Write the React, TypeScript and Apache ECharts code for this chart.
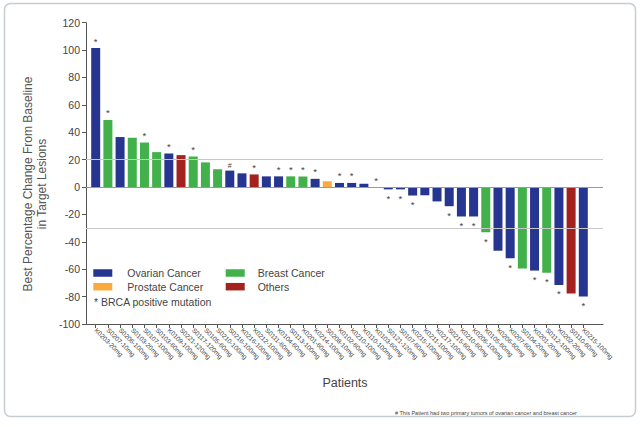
import React, { useEffect, useRef } from "react";
import * as echarts from "echarts";

const patients = [
  "K0203-20mg", "S0207-10mg", "S0206-100mg", "S0103-20mg", "S0107-100mg",
  "S0103-60mg", "K0109-100mg", "S0221-120mg", "S0117-120mg", "S0105-60mg",
  "S0210-100mg", "S0216-100mg", "K0216-100mg", "K0212-100mg", "S0111-60mg",
  "K0104-60mg", "S0113-100mg", "K0201-60mg", "K0214-100mg", "S0208-10mg",
  "K0102-60mg", "K0210-100mg", "K0110-100mg", "K0103-60mg", "S0121-120mg",
  "S0107-60mg", "K0215-100mg", "K0211-100mg", "K0217-100mg", "S0215-60mg",
  "K0210-60mg", "K0206-100mg", "K0105-60mg", "K0206-60mg", "K0207-60mg",
  "S0104-20mg", "K0201-20mg", "S0112-100mg", "K0202-20mg", "S0110-60mg",
  "K0215-100mg ",
];

const changes = [
  101.5, 49, 36.5, 36, 32.5, 25.5, 24.5, 23.3, 22.3, 18,
  13, 12, 10, 9.2, 7.8, 7.8, 7.8, 7.7, 6, 4.2,
  3, 3, 2.4, 0, -1.7, -1.7, -6.2, -6, -10.5, -14,
  -21.5, -21.5, -33, -46.5, -52, -59.5, -61, -62.5, -71.5, -77.8,
  -80,
];

const types = [
  "O", "B", "O", "B", "B", "B", "O", "R", "B", "B",
  "B", "O", "O", "R", "O", "O", "B", "B", "O", "P",
  "O", "O", "O", "O", "O", "O", "O", "O", "O", "O",
  "O", "O", "B", "O", "O", "B", "O", "B", "O", "R",
  "O",
];

const marks = [
  "*", "*", "", "", "*", "", "*", "", "*", "",
  "", "#", "", "*", "", "*", "*", "*", "*", "",
  "*", "*", "", "*", "*", "*", "*", "", "", "*",
  "*", "*", "*", "", "*", "", "*", "*", "*", "",
  "*",
];

const groups = [
  { code: "O", name: "Ovarian Cancer", color: "#26358f" },
  { code: "B", name: "Breast Cancer", color: "#42b04b" },
  { code: "P", name: "Prostate Cancer", color: "#f8ab3c" },
  { code: "R", name: "Others", color: "#a3221f" },
];

const yTicks = { min: -100, max: 120, interval: 20 };
const refLines = [20, -30];

const FONT = "Liberation Sans, Arial, sans-serif";

export default function App() {
  const ref = useRef<HTMLDivElement>(null);

  useEffect(() => {
    if (!ref.current) return;
    const chart = echarts.init(ref.current, null, { renderer: "svg" });

    const top = 22.7;
    const bottom = 427 - 324;

    const barSeries = groups.map((g) => ({
      name: g.name,
      type: "bar",
      stack: "all",
      xAxisIndex: 1,
      yAxisIndex: 1,
      barWidth: 9,
      itemStyle: { color: g.color },
      data: changes.map((v, i) =>
        types[i] === g.code
          ? {
              value: v,
              label: {
                show: marks[i] !== "",
                formatter: marks[i],
                position: v >= 0 ? "top" : "bottom",
                distance: v >= 0 ? 2 : 4,
                fontSize: marks[i] === "#" ? 7 : 9.5,
                color: "#444",
                fontFamily: FONT,
              },
            }
          : "-"
      ),
    }));

    const legendBase = {
      orient: "vertical",
      top: 267.5,
      padding: 0,
      itemWidth: 19,
      itemHeight: 7.5,
      itemGap: 2.7,
      icon: "rect",
      selectedMode: false,
    };

    const option: any = {
      animation: false,
      backgroundColor: "#ffffff",
      textStyle: { fontFamily: FONT },
      grid: [
        { left: 86, right: 37, top, bottom },
        { left: 89.6, right: 50.6, top, bottom },
      ],
      xAxis: [
        {
          type: "value",
          gridIndex: 0,
          min: 0,
          max: 1,
          axisLine: { show: true, onZero: false, lineStyle: { color: "#555", width: 1 } },
          axisTick: { show: false },
          axisLabel: { show: false },
          splitLine: { show: false },
        },
        {
          type: "category",
          gridIndex: 1,
          data: patients,
          axisLine: { show: false, onZero: false },
          axisTick: { show: true, alignWithLabel: true, length: 4, lineStyle: { color: "#555" } },
          axisLabel: {
            rotate: -45,
            interval: 0,
            fontSize: 6.5,
            color: "#444",
            margin: 5,
            fontFamily: FONT,
          },
          splitLine: { show: false },
        },
      ],
      yAxis: [
        {
          type: "value",
          gridIndex: 0,
          min: yTicks.min,
          max: yTicks.max,
          interval: yTicks.interval,
          axisLine: { show: true, lineStyle: { color: "#555", width: 1 } },
          axisTick: { show: true, length: 4, lineStyle: { color: "#555" } },
          axisLabel: { fontSize: 10.5, color: "#444", margin: 6, fontFamily: FONT },
          splitLine: { show: false },
        },
        {
          type: "value",
          gridIndex: 1,
          min: yTicks.min,
          max: yTicks.max,
          interval: yTicks.interval,
          show: false,
          splitLine: { show: false },
        },
      ],
      legend: [
        {
          ...legendBase,
          data: ["Ovarian Cancer", "Prostate Cancer"],
          left: 93.3,
          textStyle: { fontSize: 10.5, color: "#444", padding: [0, 0, 0, 10], lineHeight: 11, fontFamily: FONT },
        },
        {
          ...legendBase,
          data: ["Breast Cancer", "Others"],
          left: 225.7,
          textStyle: { fontSize: 10.5, color: "#444", padding: [0, 0, 0, 8], lineHeight: 11, fontFamily: FONT },
        },
      ],
      series: [
        {
          name: "refs",
          type: "line",
          xAxisIndex: 0,
          yAxisIndex: 0,
          data: [],
          silent: true,
          markLine: {
            silent: true,
            symbol: "none",
            label: { show: false },
            data: [
              { yAxis: 0, lineStyle: { color: "#999", type: "solid", width: 1 } },
              ...refLines.map((v) => ({
                yAxis: v,
                lineStyle: { color: "#c8c8c8", type: "solid", width: 1 },
              })),
            ],
          },
        },
        ...barSeries,
      ],
      graphic: [
        {
          type: "rect",
          shape: { x: 4.5, y: 3.5, width: 631, height: 413, r: 6 },
          style: { fill: "none", stroke: "#c5ccd3", lineWidth: 1.5 },
          silent: true,
        },
        {
          type: "text",
          x: 28,
          y: 184,
          rotation: Math.PI / 2,
          style: {
            text: "Best Percentage Change From Baseline",
            align: "center",
            verticalAlign: "middle",
            fontSize: 12,
            fill: "#555",
            fontFamily: FONT,
          },
        },
        {
          type: "text",
          x: 41.5,
          y: 184,
          rotation: Math.PI / 2,
          style: {
            text: "in Target Lesions",
            align: "center",
            verticalAlign: "middle",
            fontSize: 12,
            fill: "#555",
            fontFamily: FONT,
          },
        },
        {
          type: "text",
          x: 345,
          y: 383,
          style: {
            text: "Patients",
            align: "center",
            verticalAlign: "middle",
            fontSize: 12.5,
            fill: "#444",
            fontFamily: FONT,
          },
        },
        {
          type: "text",
          x: 94,
          y: 302,
          style: {
            text: "* BRCA positive mutation",
            align: "left",
            verticalAlign: "middle",
            fontSize: 10.5,
            fill: "#444",
            fontFamily: FONT,
          },
        },
        {
          type: "text",
          x: 395,
          y: 413,
          style: {
            text: "# This Patient had two primary tumors of ovarian cancer and breast cancer",
            align: "left",
            verticalAlign: "middle",
            fontSize: 5.5,
            fill: "#444",
            fontFamily: FONT,
          },
        },
      ],
    };

    chart.setOption(option);
    return () => chart.dispose();
  }, []);

  return (
    <div
      ref={ref}
      style={{ position: "fixed", left: 0, top: 0, width: 640, height: 427 }}
    />
  );
}
